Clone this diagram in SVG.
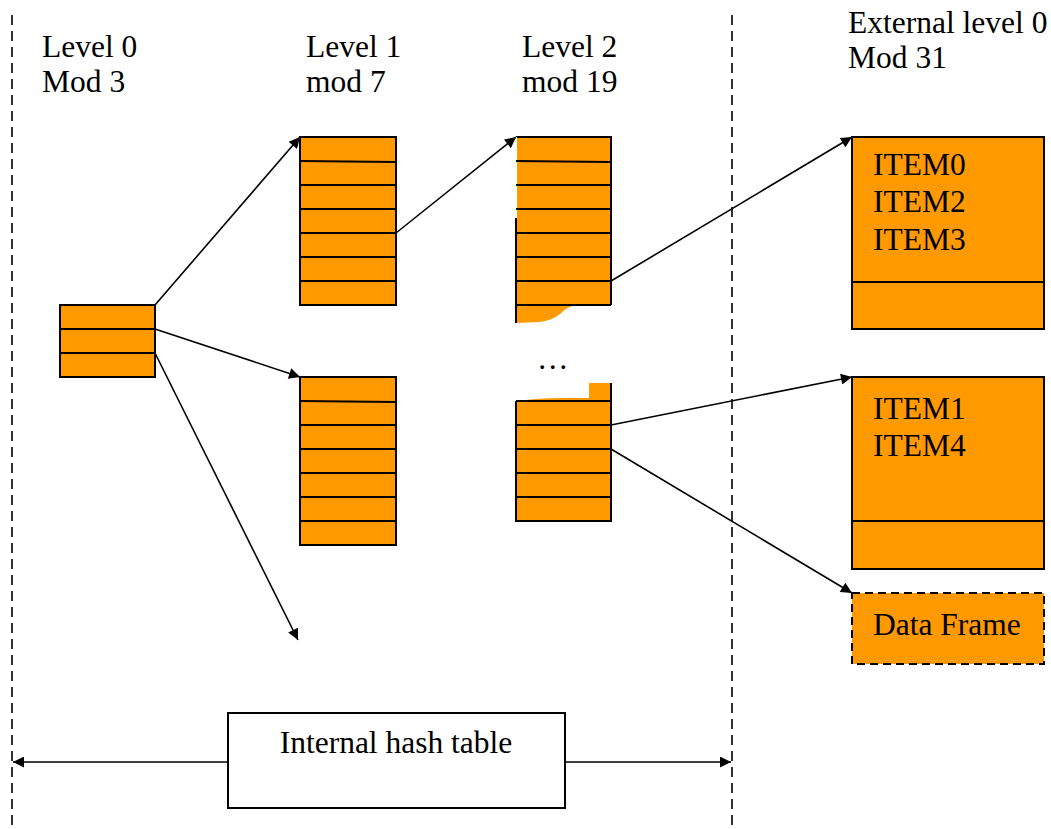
<svg xmlns="http://www.w3.org/2000/svg" width="1051" height="829" viewBox="0 0 1051 829">
<style>
.t{font-family:"Liberation Serif","Times New Roman",serif;font-size:31.5px;fill:#000}
.cell{fill:#ff9900;stroke:#000;stroke-width:2}
.ln{stroke:#000;stroke-width:2;fill:none}
.conn{stroke:#000;stroke-width:1.6;fill:none}
.dash{stroke:#000;stroke-width:1.6;stroke-dasharray:10 6;fill:none}
</style>
<defs>
<marker id="ah" viewBox="0 0 10 10" refX="10" refY="5" markerWidth="16" markerHeight="11" markerUnits="userSpaceOnUse" orient="auto">
<path d="M0,0 L10,5 L0,10 z" fill="#000"/>
</marker>
</defs>
<rect width="1051" height="829" fill="#fff"/>
<line class="dash" x1="12" y1="15" x2="12" y2="829"/>
<line class="dash" x1="732" y1="15" x2="732" y2="829"/>
<g id="labels">
<text class="t" x="42" y="57">Level 0</text>
<text class="t" x="42" y="92">Mod 3</text>
<text class="t" x="306" y="57">Level 1</text>
<text class="t" x="306" y="92">mod 7</text>
<text class="t" x="522" y="57">Level 2</text>
<text class="t" x="522" y="92">mod 19</text>
<text class="t" x="848" y="33">External level 0</text>
<text class="t" x="848" y="68">Mod 31</text>
</g>
<g id="level0">
<rect class="cell" x="60" y="305" width="95" height="72"/>
<line class="ln" x1="60" y1="329" x2="155" y2="329"/>
<line class="ln" x1="60" y1="353" x2="155" y2="353"/>
</g>
<g id="level1a">
<rect class="cell" x="300" y="137" width="96" height="168"/>
<path class="ln" d="M300,161 L396,162 M300,185 H396 M300,209 H396 M300,233 H396 M300,257 H396 M300,281 H396"/>
</g>
<g id="level1b">
<rect class="cell" x="300" y="377" width="96" height="168"/>
<path class="ln" d="M300,401 L396,402 M300,425 H396 M300,449 H396 M300,473 H396 M300,497 H396 M300,521 H396"/>
</g>
<g id="level2a">
<path d="M516,137 H611 V305 H580 Q568,305 560,314 Q553,320 540,322 L516,323 Z" fill="#ff9900"/>
<path class="ln" d="M516,137 H611 V305"/>
<line x1="516" y1="137" x2="516" y2="218" stroke="#fff" stroke-width="2"/>
<line class="ln" x1="516" y1="218" x2="516" y2="323"/>
<path class="ln" d="M516,161 L611,162 M516,185 H611 M516,209 H611 M516,233 H611 M516,257 H611 M516,281 H611 M516,305 H611"/>
</g>
<text class="t" x="537" y="369">…</text>
<g id="level2b">
<path d="M516,401 Q540,398 560,398 H589 V383 H611 V521 H516 Z" fill="#ff9900"/>
<path class="ln" d="M611,383 V521 H516 V401 M516,401 H611 M516,425 H611 M516,449 H611 M516,473 H611 M516,497 H611"/>
</g>
<g id="ext1">
<rect class="cell" x="852" y="137" width="192" height="192"/>
<line class="ln" x1="852" y1="282" x2="1044" y2="282"/>
<text class="t" x="873" y="175">ITEM0</text>
<text class="t" x="873" y="212">ITEM2</text>
<text class="t" x="873" y="250">ITEM3</text>
</g>
<g id="ext2">
<rect class="cell" x="852" y="377" width="192" height="192"/>
<line class="ln" x1="852" y1="521" x2="1044" y2="521"/>
<text class="t" x="873" y="419">ITEM1</text>
<text class="t" x="873" y="456">ITEM4</text>
</g>
<g id="dataframe">
<rect x="852" y="593" width="192" height="71" fill="#ff9900" stroke="#000" stroke-width="2" stroke-dasharray="8 5"/>
<text class="t" x="873" y="635">Data Frame</text>
</g>
<g id="internal">
<rect x="228" y="713" width="337" height="95" fill="#fff" stroke="#000" stroke-width="2"/>
<text class="t" x="396" y="753" text-anchor="middle">Internal hash table</text>
</g>
<g id="connectors">
<line class="conn" x1="155" y1="305" x2="300" y2="137" marker-end="url(#ah)"/>
<line class="conn" x1="155" y1="329" x2="300" y2="377" marker-end="url(#ah)"/>
<line class="conn" x1="155" y1="353" x2="298" y2="640" marker-end="url(#ah)"/>
<line class="conn" x1="396" y1="233" x2="516" y2="137" marker-end="url(#ah)"/>
<line class="conn" x1="611" y1="281" x2="852" y2="137" marker-end="url(#ah)"/>
<line class="conn" x1="611" y1="425" x2="852" y2="377" marker-end="url(#ah)"/>
<line class="conn" x1="611" y1="449" x2="852" y2="593" marker-end="url(#ah)"/>
<line class="conn" x1="228" y1="762" x2="13" y2="762" marker-end="url(#ah)"/>
<line class="conn" x1="565" y1="762" x2="731" y2="762" marker-end="url(#ah)"/>
</g>
</svg>
